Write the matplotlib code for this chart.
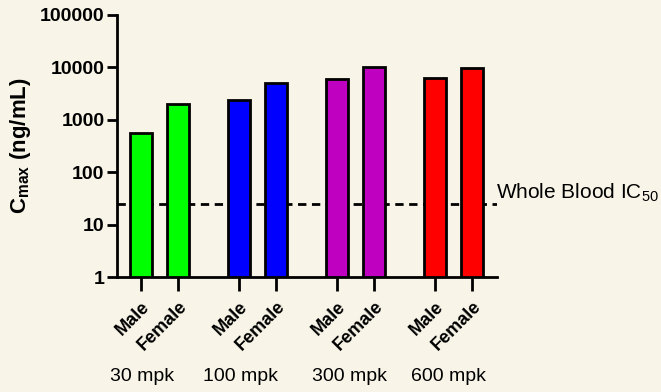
import numpy as np
import matplotlib
matplotlib.use("Agg")
import matplotlib.pyplot as plt
import matplotlib.transforms as mtransforms

plt.rcParams["font.family"] = ["Liberation Sans", "DejaVu Sans"]
plt.rcParams["mathtext.fontset"] = "custom"
plt.rcParams["mathtext.rm"] = "Liberation Sans"
plt.rcParams["mathtext.bf"] = "Liberation Sans:bold"
plt.rcParams["mathtext.it"] = "Liberation Sans:italic"

# data
groups = ["30 mpk", "100 mpk", "300 mpk", "600 mpk"]
sexes = ["Male", "Female"]
male_cmax = [550, 2400, 6000, 6300]
female_cmax = [2000, 5000, 10000, 9800]
colors = ["#00ff00", "#0000ff", "#c000c0", "#ff0000"]
ic50 = 25

bg = "#f8f5e8"
fig = plt.figure(figsize=(6.61, 3.92), dpi=100, facecolor=bg)
ax = fig.add_axes([0.177, 0.293, 0.575, 0.669], facecolor=bg)

gstep = 2.65
pos, vals, cols, labels = [], [], [], []
for g in range(len(groups)):
    for s, v in enumerate([male_cmax[g], female_cmax[g]]):
        pos.append(g * gstep + s)
        vals.append(v)
        cols.append(colors[g])
        labels.append(sexes[s])

ax.bar(pos, vals, width=0.6, color=cols, edgecolor="black", linewidth=2, zorder=2)
ax.set_yscale("log")
ax.set_ylim(1, 100000)
ax.set_xlim(-0.65, 9.62)

ax.axhline(ic50, color="black", linestyle=(0, (3, 2)), linewidth=2, zorder=1)
ax.text(0.998, ic50 * 1.6, "Whole Blood IC$_{50}$", transform=ax.get_yaxis_transform(),
        fontsize=15, va="center", ha="left", clip_on=False)

ax.set_yticks([1, 10, 100, 1000, 10000, 100000])
ax.set_yticklabels(["1", "10", "100", "1000", "10000", "100000"], fontweight="bold", fontsize=14)
ax.yaxis.set_minor_locator(matplotlib.ticker.NullLocator())

ax.set_xticks(pos)
ax.set_xticklabels(labels, rotation=45, ha="right", rotation_mode="anchor",
                   fontweight="bold", fontsize=13)

ax.tick_params(axis="y", direction="out", length=7, width=2, pad=2)
ax.tick_params(axis="x", direction="out", length=10, width=2, pad=5)

for side in ["top", "right"]:
    ax.spines[side].set_visible(False)
for side in ["left", "bottom"]:
    ax.spines[side].set_linewidth(2)

ax.set_ylabel(r"$\mathbf{C_{max}}$ (ng/mL)", fontweight="bold", fontsize=16)
ax.yaxis.set_label_coords(-0.222, 0.5)

group_x = [0.03, 2.68, 5.62, 8.3]
trans = mtransforms.blended_transform_factory(ax.transData, fig.transFigure)
for gx, name in zip(group_x, groups):
    ax.text(gx, 0.04, name, transform=trans, ha="center", va="center", fontsize=14)

fig.savefig("out.png", dpi=100, facecolor=bg)
